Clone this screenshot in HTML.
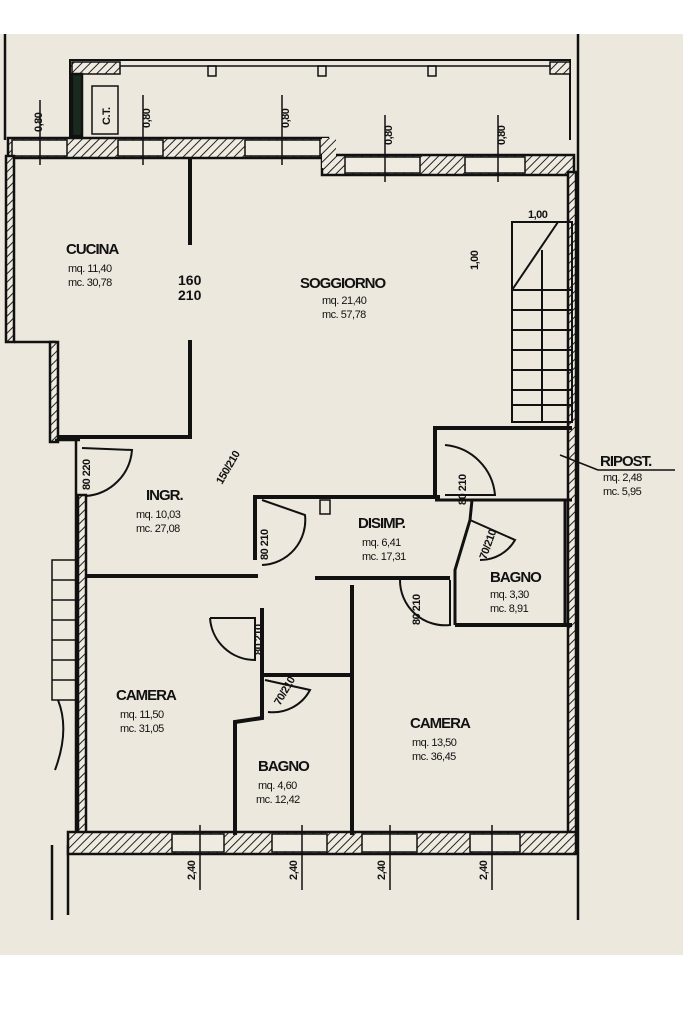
<!DOCTYPE html>
<html><head><meta charset="utf-8"><style>
html,body{margin:0;padding:0;background:#fff}
svg{display:block}
text{font-family:"Liberation Sans",sans-serif;fill:#111}
.t{font-size:15px;font-weight:bold;letter-spacing:-1px}
.s{font-size:11px;letter-spacing:-0.5px}
</style></head><body>
<svg width="683" height="1023" viewBox="0 0 683 1023" xmlns="http://www.w3.org/2000/svg">
<defs>
<pattern id="h" width="6" height="6" patternUnits="userSpaceOnUse" patternTransform="rotate(45)">
<rect width="6" height="6" fill="#efebe1"/><line x1="0" y1="0" x2="0" y2="6" stroke="#222" stroke-width="2"/></pattern>
</defs>
<rect x="0" y="34" width="683" height="921" fill="#ece8de"/>
<g stroke="#111" fill="none" stroke-width="2.5">
<!-- outer site lines -->
<line x1="5" y1="34" x2="5" y2="140"/>
<line x1="578" y1="34" x2="578" y2="920"/>
<line x1="52" y1="845" x2="52" y2="920"/>
<line x1="68" y1="845" x2="68" y2="915"/>
<!-- balcony top -->
<polyline points="70,140 70,60 570,60 570,140" stroke-width="2"/>
<line x1="70" y1="66" x2="570" y2="66" stroke-width="1.5"/>
<rect x="72" y="62" width="48" height="12" fill="url(#h)" stroke-width="1.5"/>
<rect x="550" y="62" width="20" height="12" fill="url(#h)" stroke-width="1.5"/>
<rect x="72" y="74" width="10" height="62" fill="#1b2a1e"/>
<rect x="92" y="86" width="26" height="48" stroke-width="1.5"/>
<rect x="208" y="66" width="8" height="10" stroke-width="1.5"/><rect x="318" y="66" width="8" height="10" stroke-width="1.5"/><rect x="428" y="66" width="8" height="10" stroke-width="1.5"/>
<!-- top wall -->
<rect x="8" y="138" width="320" height="20" fill="url(#h)"/>
<rect x="322" y="155" width="252" height="20" fill="url(#h)"/>
<rect x="322" y="138" width="14" height="30" fill="url(#h)" stroke="none"/>
<!-- windows in top wall -->
<g fill="#efebe1" stroke-width="1.5">
<rect x="12" y="140" width="55" height="16"/><rect x="118" y="140" width="45" height="16"/><rect x="245" y="140" width="75" height="16"/>
<rect x="345" y="157" width="75" height="16"/><rect x="465" y="157" width="60" height="16"/>
</g>
<!-- left walls -->
<rect x="6" y="156" width="8" height="186" fill="url(#h)"/>
<polyline points="14,342 55,342 55,440"/>
<rect x="50" y="342" width="8" height="100" fill="url(#h)"/>
<polyline points="55,440 80,440"/>
<rect x="78" y="495" width="8" height="345" fill="url(#h)"/>
<line x1="76" y1="440" x2="76" y2="840"/>
<!-- outside stair -->
<g stroke-width="1.5"><rect x="52" y="560" width="24" height="140"/>
<line x1="52" y1="580" x2="76" y2="580"/><line x1="52" y1="600" x2="76" y2="600"/><line x1="52" y1="620" x2="76" y2="620"/><line x1="52" y1="640" x2="76" y2="640"/><line x1="52" y1="660" x2="76" y2="660"/><line x1="52" y1="680" x2="76" y2="680"/></g>
<path d="M58,700 Q70,730 55,770" stroke-width="2"/>
<!-- right wall -->
<rect x="568" y="172" width="8" height="665" fill="url(#h)"/>
<!-- bottom wall -->
<rect x="68" y="832" width="508" height="22" fill="url(#h)"/>
<g fill="#efebe1" stroke-width="1.5">
<rect x="172" y="834" width="52" height="18"/><rect x="272" y="834" width="55" height="18"/><rect x="362" y="834" width="55" height="18"/><rect x="470" y="834" width="50" height="18"/>
</g>
<!-- kitchen partition -->
<line x1="190" y1="158" x2="190" y2="245" stroke-width="4"/>
<line x1="190" y1="340" x2="190" y2="437" stroke-width="4"/>
<line x1="58" y1="437" x2="192" y2="437" stroke-width="4"/>
<!-- stair -->
<g stroke-width="2"><rect x="512" y="222" width="60" height="200"/>
<line x1="512" y1="290" x2="572" y2="290"/><line x1="512" y1="222" x2="572" y2="222"/>
<line x1="512" y1="290" x2="558" y2="222"/>
<line x1="542" y1="250" x2="542" y2="422"/>
<line x1="512" y1="310" x2="572" y2="310"/><line x1="512" y1="330" x2="572" y2="330"/><line x1="512" y1="350" x2="572" y2="350"/><line x1="512" y1="370" x2="572" y2="370"/><line x1="512" y1="390" x2="572" y2="390"/><line x1="512" y1="405" x2="572" y2="405"/>
</g>
<!-- riposto -->
<polyline points="435,497 435,428 572,428" stroke-width="4"/>
<line x1="435" y1="500" x2="572" y2="500" stroke-width="3"/>
<line x1="560" y1="455" x2="598" y2="470" stroke-width="1.5"/>
<line x1="598" y1="470" x2="675" y2="470" stroke-width="1.5"/>
<!-- disimp -->
<polyline points="255,560 255,497 440,497" stroke-width="4"/>
<rect x="320" y="500" width="10" height="14" stroke-width="1.5"/>
<polyline points="315,578 450,578" stroke-width="4"/>
<!-- ingr/camera wall -->
<line x1="86" y1="576" x2="258" y2="576" stroke-width="4"/>
<!-- camera/bagno divider -->
<polyline points="262,608 262,718 235,722 235,835" stroke-width="4"/>
<line x1="262" y1="675" x2="352" y2="675" stroke-width="4"/>
<line x1="352" y1="585" x2="352" y2="835" stroke-width="4"/>
<!-- small bagno -->
<polyline points="455,625 455,570 470,520 472,500" stroke-width="3"/>
<line x1="455" y1="625" x2="572" y2="625" stroke-width="4"/>
<line x1="565" y1="500" x2="565" y2="625" stroke-width="3"/>
<!-- doors -->
<g stroke-width="2">
<path d="M82,448 L132,450 A50,50 0 0 1 86,496"/>
<path d="M262,500 L305,515 A45,45 0 0 1 262,565"/>
<path d="M210,618 L255,618 L255,660 A45,45 0 0 1 210,618"/>
<path d="M265,680 L310,690 A42,42 0 0 1 268,712"/>
<path d="M445,445 A55,55 0 0 1 495,495 L445,495"/>
<path d="M470,520 L515,540 A40,40 0 0 1 480,560"/>
<path d="M400,580 A45,45 0 0 0 450,625 L450,580"/>
</g>
</g>
<!-- dimension marks -->
<g stroke="#111" stroke-width="1.5">
<line x1="40" y1="100" x2="40" y2="165"/><line x1="143" y1="95" x2="143" y2="165"/><line x1="282" y1="95" x2="282" y2="165"/>
<line x1="385" y1="115" x2="385" y2="182"/><line x1="498" y1="115" x2="498" y2="182"/>
<line x1="200" y1="825" x2="200" y2="890"/><line x1="302" y1="825" x2="302" y2="890"/><line x1="390" y1="825" x2="390" y2="890"/><line x1="492" y1="825" x2="492" y2="890"/>
</g>
<g class="s" font-size="10" font-weight="bold">
<text transform="translate(42,132) rotate(-90)">0,80</text>
<text transform="translate(150,128) rotate(-90)">0,80</text>
<text transform="translate(289,128) rotate(-90)">0,80</text>
<text transform="translate(392,145) rotate(-90)">0,80</text>
<text transform="translate(505,145) rotate(-90)">0,80</text>
<text transform="translate(110,125) rotate(-90)">C.T.</text>
<text transform="translate(195,880) rotate(-90)">2,40</text>
<text transform="translate(297,880) rotate(-90)">2,40</text>
<text transform="translate(385,880) rotate(-90)">2,40</text>
<text transform="translate(487,880) rotate(-90)">2,40</text>
<text x="528" y="218">1,00</text>
<text transform="translate(478,270) rotate(-90)">1,00</text>
<text transform="translate(90,490) rotate(-90)">80 220</text>
<text transform="translate(222,485) rotate(-60)">150/210</text>
<text transform="translate(268,560) rotate(-90)">80 210</text>
<text transform="translate(262,655) rotate(-90)">80 210</text>
<text transform="translate(280,706) rotate(-60)">70/210</text>
<text transform="translate(466,505) rotate(-90)">80 210</text>
<text transform="translate(486,560) rotate(-70)">70/210</text>
<text transform="translate(420,625) rotate(-90)">80 210</text>
</g>
<text x="178" y="285" style="font-size:14px;font-weight:bold">160</text>
<text x="178" y="300" style="font-size:14px;font-weight:bold">210</text>
<text class="t" x="66" y="254">CUCINA</text>
<text class="s" x="68" y="272">mq. 11,40</text><text class="s" x="68" y="286">mc. 30,78</text>
<text class="t" x="300" y="288">SOGGIORNO</text>
<text class="s" x="322" y="304">mq. 21,40</text><text class="s" x="322" y="318">mc. 57,78</text>
<text class="t" x="146" y="500">INGR.</text>
<text class="s" x="136" y="518">mq. 10,03</text><text class="s" x="136" y="532">mc. 27,08</text>
<text class="t" x="358" y="528">DISIMP.</text>
<text class="s" x="362" y="546">mq. 6,41</text><text class="s" x="362" y="560">mc. 17,31</text>
<text class="t" x="490" y="582">BAGNO</text>
<text class="s" x="490" y="598">mq. 3,30</text><text class="s" x="490" y="612">mc. 8,91</text>
<text class="t" x="600" y="466">RIPOST.</text>
<text class="s" x="603" y="481">mq. 2,48</text><text class="s" x="603" y="495">mc. 5,95</text>
<text class="t" x="116" y="700">CAMERA</text>
<text class="s" x="120" y="718">mq. 11,50</text><text class="s" x="120" y="732">mc. 31,05</text>
<text class="t" x="258" y="771">BAGNO</text>
<text class="s" x="258" y="789">mq. 4,60</text><text class="s" x="256" y="803">mc. 12,42</text>
<text class="t" x="410" y="728">CAMERA</text>
<text class="s" x="412" y="746">mq. 13,50</text><text class="s" x="412" y="760">mc. 36,45</text>
</svg>
</body></html>
